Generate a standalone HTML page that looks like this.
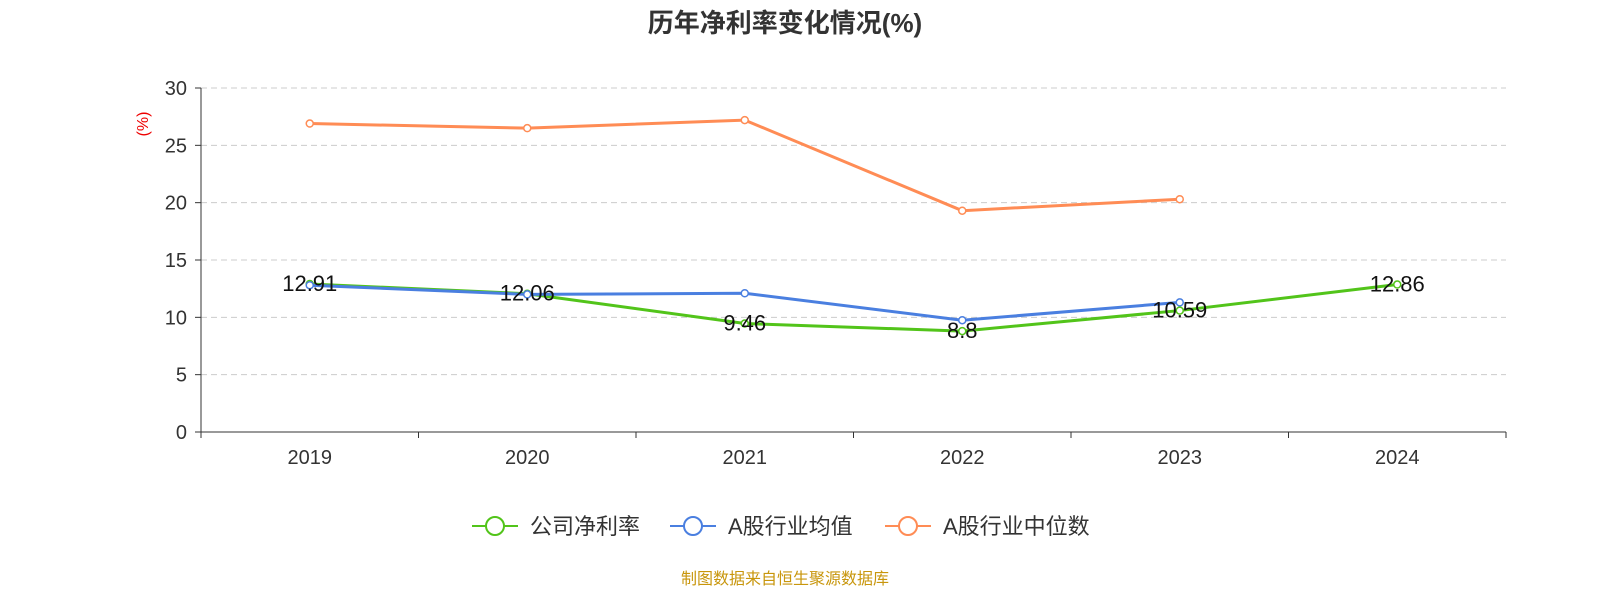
<!DOCTYPE html>
<html><head><meta charset="utf-8"><style>
body{margin:0;background:#fff;font-family:"Liberation Sans","Noto Sans CJK SC",sans-serif}
</style></head><body>
<svg id="chart" width="1600" height="600" xmlns="http://www.w3.org/2000/svg" font-family="Liberation Sans, Noto Sans CJK SC, sans-serif">
<text x="785" y="32" text-anchor="middle" font-size="26" font-weight="bold" fill="#333">历年净利率变化情况(%)</text>
<text x="148" y="124" font-size="16" fill="#e00" transform="rotate(-90 148 124)" text-anchor="middle">(%)</text>
<g id="grid"></g><g id="axes"></g><g id="series"></g><g id="labels"></g>
<g>
<g><line x1="472" y1="526" x2="518" y2="526" stroke="#52c41a" stroke-width="2"/><circle cx="495" cy="526" r="9" fill="#fff" stroke="#52c41a" stroke-width="2"/><text x="530" y="534" font-size="22" fill="#333">公司净利率</text></g>
<g><line x1="670" y1="526" x2="716" y2="526" stroke="#4a7fe0" stroke-width="2"/><circle cx="693" cy="526" r="9" fill="#fff" stroke="#4a7fe0" stroke-width="2"/><text x="728" y="534" font-size="22" fill="#333">A股行业均值</text></g>
<g><line x1="885" y1="526" x2="931" y2="526" stroke="#ff8c55" stroke-width="2"/><circle cx="908" cy="526" r="9" fill="#fff" stroke="#ff8c55" stroke-width="2"/><text x="943" y="534" font-size="22" fill="#333">A股行业中位数</text></g>
</g>
<text x="785" y="584" text-anchor="middle" font-size="16" fill="#c8960c">制图数据来自恒生聚源数据库</text>
</svg>
<script>
const categories=["2019","2020","2021","2022","2023","2024"];
const companyValues=[12.91,12.06,9.46,8.8,10.59,12.86];
const industryAvg=[12.8,12.0,12.1,9.75,11.3,null];
const industryMedian=[26.9,26.5,27.2,19.3,20.3,null];
const yTicks=[0,5,10,15,20,25,30];
const NS="http://www.w3.org/2000/svg";
const L=201,R=1506,T=88,B=432,yMax=30;
const bw=(R-L)/categories.length;
const x=i=>L+bw*(i+0.5);
const y=v=>B-(v/yMax)*(B-T);
function mk(tag,attrs,parent){const e=document.createElementNS(NS,tag);for(const k in attrs)e.setAttribute(k,attrs[k]);parent.appendChild(e);return e;}
const grid=document.getElementById('grid'),axes=document.getElementById('axes'),ser=document.getElementById('series'),lab=document.getElementById('labels');
yTicks.forEach(t=>{
 if(t>0){const g=mk('line',{x1:L,x2:R,y1:y(t),y2:y(t),stroke:'#ccc','stroke-dasharray':'6,4'},grid);
 
 }
 const tk=mk('line',{x1:L-6,x2:L,y1:y(t),y2:y(t),stroke:'#333'},axes);
 
 
 const tx=mk('text',{x:L-14,y:y(t)+7,'text-anchor':'end','font-size':20,fill:'#333'},axes);tx.textContent=t;
 
 
});
const ya=mk('line',{x1:L,x2:L,y1:T,y2:B,stroke:'#333'},axes);


const xa=mk('line',{x1:L,x2:R,y1:B,y2:B,stroke:'#333'},axes);


for(let i=0;i<=categories.length;i++){const t=mk('line',{x1:L+bw*i,x2:L+bw*i,y1:B,y2:B+6,stroke:'#333'},axes);
 
 }
categories.forEach((c,i)=>{const t=mk('text',{x:x(i),y:B+32,'text-anchor':'middle','font-size':20,fill:'#333'},axes);t.textContent=c;
 
 });
function series(vals,color,name){
 const pts=vals.map((v,i)=>v==null?null:[x(i),y(v)]).filter(p=>p);
 const p=mk('polyline',{points:pts.map(q=>q.join(',')).join(' '),fill:'none',stroke:color,'stroke-width':3},ser);
 
 
 pts.forEach(q=>{const c=mk('circle',{cx:q[0],cy:q[1],r:3.5,fill:'#fff',stroke:color,'stroke-width':1.5},ser);
 
 });
}
series(industryMedian,'#ff8c55','industry-median');
series(companyValues,'#52c41a','company');
series(industryAvg,'#4a7fe0','industry-average');
companyValues.forEach((v,i)=>{const t=mk('text',{x:x(i),y:y(v)+7,'text-anchor':'middle','font-size':22,fill:'#111'},lab);t.textContent=v;
 
 });
</script>
</body></html>
